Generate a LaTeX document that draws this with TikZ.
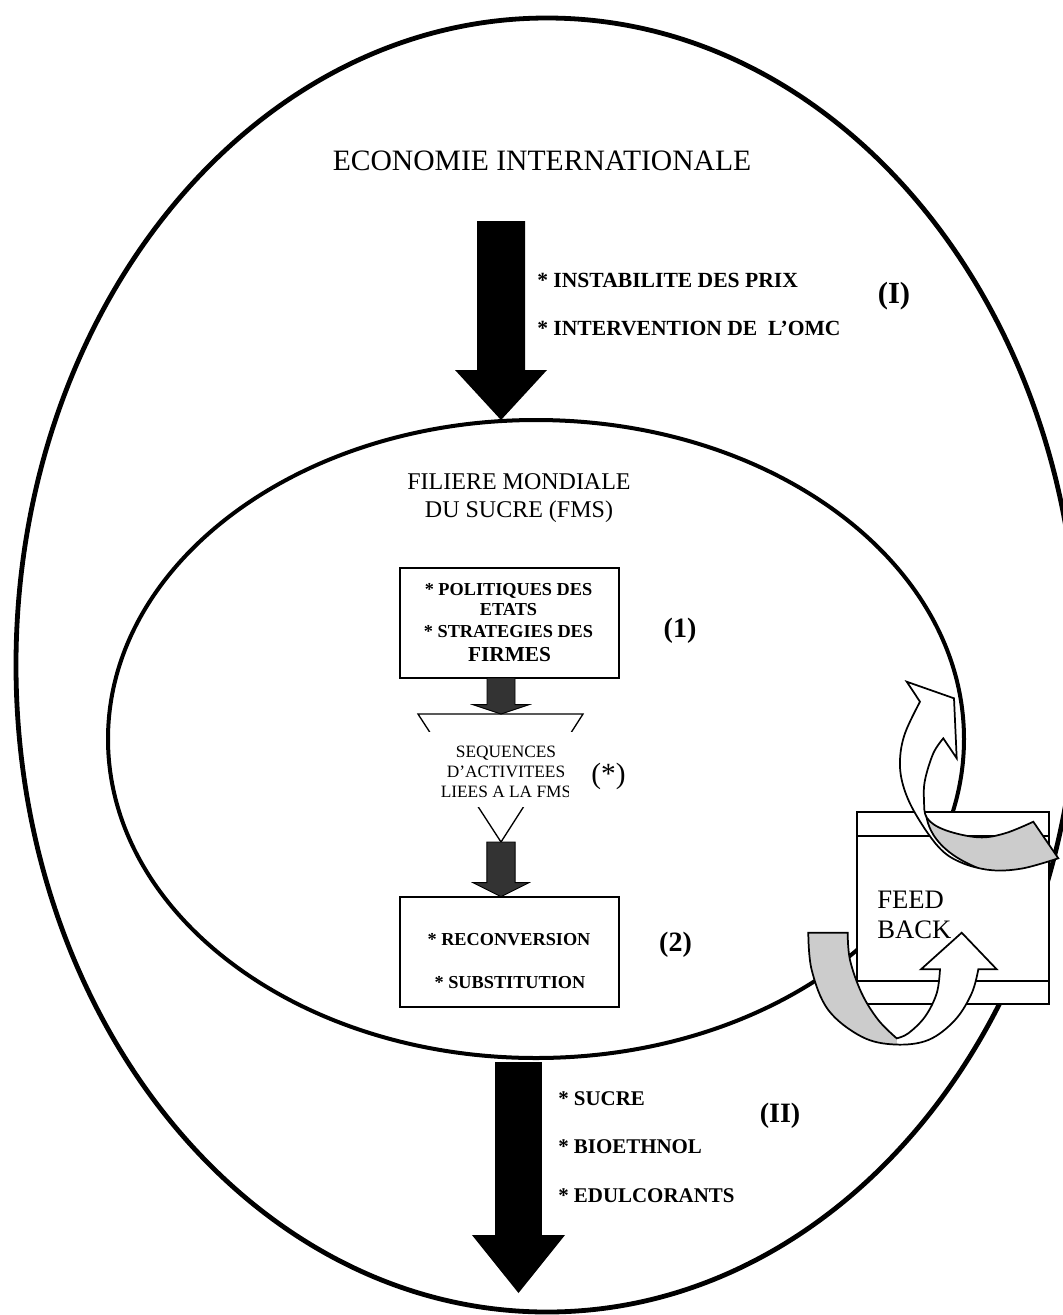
\documentclass[tikz,border=0pt]{standalone}
\usepackage{fontspec}
\setmainfont{Liberation Serif}
\usetikzlibrary{shapes.geometric,calc}

% vertical block arrow: style, start, tip, shaft half width, head half width, head length
\newcommand\blockarrow[6]{%
  \path[#1] let \p1=(#2), \p2=(#3) in
    (\x1-#4,\y1) -- (\x1+#4,\y1) -- (\x1+#4,\y2+#6) -- (\x1+#5,\y2+#6)
    -- (\x1,\y2) -- (\x1-#5,\y2+#6) -- (\x1-#4,\y2+#6) -- cycle;}

% upper feedback ribbon: comes in from the right, bends round and rises to its head
\newcommand\fbUpper{plot[smooth,tension=0.6] coordinates {(1058.3,858.3) (1022,868.5) (990,870) (960,862) (938.3,846.7) (915,813) (903,785) (900,760) (905,733.3) (920,701.7)}
  -- (906.7,681.7) -- (954,698.3) -- (956.7,758.3) -- (943.3,738.3)
  -- plot[smooth,tension=0.6] coordinates {(943.3,738.3) (933.3,753.3) (925,780) (924,800) (927,818) (945,830) (978.3,837.3) (1005,833.3) (1033.3,821.7)} -- cycle}

% lower feedback ribbon: goes down on the left, turns and rises to its head
\newcommand\fbLower{(808.3,932.7) -- (847.7,932.7)
  -- plot[smooth,tension=0.6] coordinates {(847.7,932.7) (850,960) (861.7,993.3) (878.3,1020) (896.7,1038.3)}
  -- plot[smooth,tension=0.6] coordinates {(896.7,1038.3) (908.3,1033.3) (925,1016.7) (936.7,993.3) (940,969.3)}
  -- (921,969.3) -- (961.7,932.7) -- (996.7,969.3) -- (978.3,969.3)
  -- plot[smooth,tension=0.6] coordinates {(978.3,969.3) (971.7,993.3) (955,1020) (928.3,1040) (895,1044.5) (861.7,1036.7) (828.3,1010) (811.7,970) (808.3,932.7)} -- cycle}

\begin{document}
\begin{tikzpicture}[x=0.75pt, y=-0.75pt,
  ring/.style={draw, ellipse, inner sep=0pt, outer sep=0pt},
  panel/.style={draw, fill=white, line width=1.4pt, inner sep=0pt, outer sep=0pt,
                minimum width=164.25pt, minimum height=82.5pt},
  txt/.style={inner sep=0pt, anchor=base},
  txtl/.style={inner sep=0pt, anchor=base west},
  title/.style={txt, font=\fontsize{22.2pt}{26pt}\selectfont},
  sub/.style={txt, font=\fontsize{18pt}{22pt}\selectfont},
  cue/.style={txtl, font=\bfseries\fontsize{15.7pt}{19pt}\selectfont},
  topcue/.style={txtl, font=\bfseries\fontsize{16.2pt}{19pt}\selectfont},
  tag/.style={txt, font=\bfseries\fontsize{21pt}{25pt}\selectfont},
  boxline/.style={txt, font=\bfseries\fontsize{13.7pt}{15pt}\selectfont},
  seqline/.style={txt, font=\fontsize{13pt}{15pt}\selectfont},
  bigarrow/.style={fill=black},
  midarrow/.style={fill=black!80, draw=black, line width=0.7pt, line join=miter},
  band/.style={draw=black, line width=1.3pt, line join=miter},
  back/.style={fill=black!20},
]
\useasboundingbox (0,0) rectangle (1063,1315);
\clip (0,0) rectangle (1063,1315);
\fill[white] (0,0) rectangle (1063,1315);

% the two nested domains
\node[ring, line width=3.6pt, minimum width=796.5pt, minimum height=970.5pt] (eco) at (547,665) {};
\node[ring, line width=3pt, minimum width=642pt, minimum height=478.5pt] (fms) at (536,739) {};

% outer level
\node[title] (econ) at (542,170) {ECONOMIE INTERNATIONALE};
\node[topcue] (cue1) at (537,287) {* INSTABILITE DES PRIX};
\node[topcue] (cue2) at (537,335) {* INTERVENTION DE~~L’OMC};
\node[txt, font=\bfseries\fontsize{23pt}{27pt}\selectfont] (tagI) at (894,303) {(I)};

\coordinate (a1s) at (501,221);
\blockarrow{bigarrow}{a1s}{a1s |- fms.north}{18pt}{34.5pt}{37.5pt}

% inner level
\node[sub] (fms1) at (519,489) {FILIERE MONDIALE};
\node[sub] (fms2) at (519,517) {DU SUCRE (FMS)};

\node[panel] (box1) at (509.5,623) {};
\node[boxline] (b1a) at (508.5,595) {* POLITIQUES DES};
\node[boxline] (b1b) at (508.5,615) {ETATS};
\node[boxline] (b1c) at (508.5,637) {* STRATEGIES DES};
\node[txt, font=\bfseries\fontsize{16pt}{18pt}\selectfont] (b1d) at (509.5,661) {FIRMES};
\node[tag] (tag1) at (680,637) {(1)};

% funnel of activity sequences
\coordinate (funL) at (418,714);
\coordinate (funR) at (583,714);
\coordinate (funT) at (501,842);
\coordinate (funN) at (501,714);
\draw[line width=1pt] (funL) -- (funR) -- (funT) -- cycle;
\fill[white] (424,732) rectangle (578,807);
\begin{scope}
  \clip (424,730) rectangle (568,810);
  \node[seqline] (seqa) at (506,757) {SEQUENCES};
  \node[seqline] (seqb) at (506,777) {D’ACTIVITEES};
  \node[seqline] (seqc) at (506,797) {LIEES A LA FMS};
\end{scope}
\node[txt, font=\fontsize{22pt}{26pt}\selectfont] (star) at (608.5,783) {(*)};

\node[panel] (box2) at (509.5,951.7) {};
\node[boxline] (b2a) at (509,945) {* RECONVERSION};
\node[boxline] (b2b) at (510,988) {* SUBSTITUTION};
\node[tag] (tag2) at (675.5,951) {(2)};

\blockarrow{midarrow}{box1.south -| funN}{funN}{10.5pt}{21pt}{7pt}
\blockarrow{midarrow}{funT}{box2.north -| funT}{10.6pt}{21pt}{10.5pt}

% outputs
\coordinate (a2e) at (518.5,1293);
\coordinate (a2s) at ($(fms.south -| a2e)+(0,4)$);
\blockarrow{bigarrow}{a2s}{a2e}{17.6pt}{34.9pt}{43.5pt}
\node[cue] (out1) at (558,1105) {* SUCRE};
\node[cue] (out2) at (558,1153) {* BIOETHNOL};
\node[cue] (out3) at (558,1202) {* EDULCORANTS};
\node[tag] (tagII) at (780,1122) {(II)};

% feedback box
\node[panel, line width=1.5pt, minimum width=144pt, minimum height=144pt] (fb) at (953,908.4) {};
\draw[line width=1.4pt] ($(fb.north west)+(0,24)$) -- ($(fb.north east)+(0,24)$);
\draw[line width=1.4pt] ($(fb.south west)+(0,-23)$) -- ($(fb.south east)+(0,-23)$);
\node[txtl, font=\fontsize{20pt}{24pt}\selectfont] (feed) at (877,908) {FEED};
\node[txtl, font=\fontsize{20pt}{24pt}\selectfont] (back) at (877,938) {BACK};

% feedback ribbons
\fill[white] \fbUpper;
\begin{scope}
  \clip \fbUpper;
  \fill[back] (926,814) .. controls (929,838) and (948,856) .. (978,868) -- (1075,875) -- (1075,800) -- (960,800) -- cycle;
  \draw[line width=1.3pt] (926,814) .. controls (929,838) and (948,856) .. (978,868);
\end{scope}
\draw[band] \fbUpper;

\fill[white] \fbLower;
\begin{scope}
  \clip \fbLower;
  \fill[back] (790,920) rectangle (897,1050);
\end{scope}
\draw[band] \fbLower;
\end{tikzpicture}
\end{document}
